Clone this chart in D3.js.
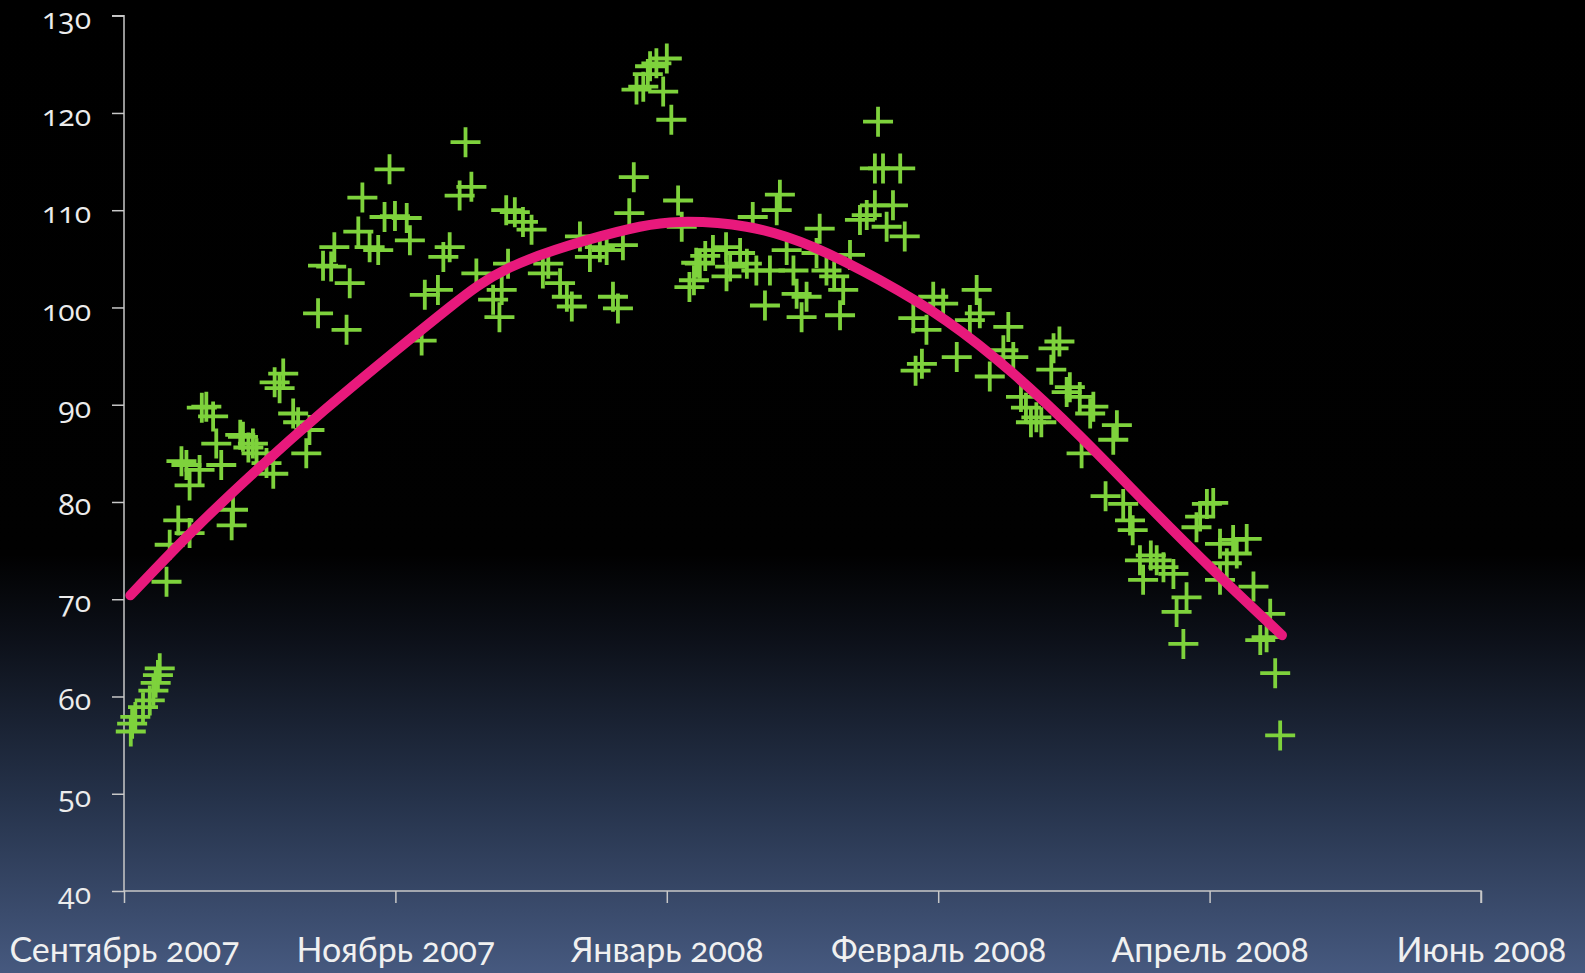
<!DOCTYPE html>
<html lang="ru">
<head>
<meta charset="utf-8">
<script src="https://cdn.jsdelivr.net/npm/d3@7"></script>
<style>
  html, body { margin: 0; padding: 0; background: #000; }
  svg { display: block; }
  text { font-feature-settings: "onum" 1; font-variant-numeric: oldstyle-nums; }
  .y-axis text { font-family: "Open Sans", sans-serif; }
  .x-axis text { font-family: "Lato", sans-serif; }
</style>
</head>
<body>
<svg id="chart" width="1585" height="973"></svg>
<script>
// Days elapsed since the start of the observation period (1 Sep 2007)
const dayOffsets = [
  1.5, 1.8, 2.5, 4.2, 5.7, 6.5, 7.0, 7.5, 7.9, 9.4,
  10.1, 12.0, 12.7, 13.8, 14.5, 14.5, 16.7, 17.2, 18.2, 19.7,
  20.4, 21.5, 23.8, 24.1, 25.7, 26.3, 27.5, 28.5, 29.3, 31.5,
  33.0, 33.3, 34.4, 35.2, 37.4, 38.5, 40.3, 41.0, 42.9, 44.0,
  45.8, 46.5, 49.9, 49.2, 51.8, 52.7, 54.3, 56.2, 57.6, 58.7,
  59.9, 62.5, 63.2, 66.5, 69.4, 65.8, 70.6, 72.0, 74.2, 75.5,
  76.8, 77.9, 81.6, 83.0, 84.5, 86.4, 88.2, 90.1, 84.9, 83.5,
  92.6, 93.8, 96.4, 97.9, 99.0, 100.8, 103.0, 105.2, 106.7, 108.1,
  109.2, 110.3, 111.7, 112.7, 113.3, 114.8, 115.8, 116.3, 117.7, 119.2,
  120.0, 121.0, 122.5, 123.3, 125.0, 126.0, 126.5, 127.3, 128.5, 130.2,
  133.1, 133.2, 134.0, 136.2, 137.7, 139.0, 139.8, 141.7, 142.8, 144.3,
  145.0, 146.5, 148.0, 148.7, 149.8, 150.9, 153.1, 153.8, 155.3, 157.0,
  158.3, 159.0, 160.5, 162.7, 164.2, 166.0, 166.0, 166.7, 167.8, 168.6,
  170.0, 171.6, 172.6, 174.5, 175.0, 176.4, 177.4, 178.9, 181.1, 184.1,
  187.0, 188.5, 189.2, 191.4, 194.4, 195.5, 196.6, 198.3, 199.4, 200.5,
  201.7, 202.8, 205.0, 205.5, 206.8, 208.4, 209.1, 211.3, 211.7, 213.6,
  214.3, 217.0, 218.7, 219.5, 220.9, 222.4, 223.0, 224.6, 225.3, 227.0,
  228.3, 229.8, 232.0, 232.7, 234.2, 234.9, 237.1, 237.9, 239.4, 240.8,
  242.3, 242.3, 243.8, 245.2, 246.0, 248.2, 249.7, 251.2, 252.6, 253.4,
  254.5, 255.6
];

// Measured value for each day above
const readings = [
  56.4, 57.2, 57.9, 58.9, 59.6, 60.6, 61.4, 62.2, 62.9, 71.8,
  75.6, 78.1, 84.2, 83.8, 81.7, 76.8, 83.3, 89.7, 89.8, 88.8,
  86.0, 83.8, 77.6, 79.2, 86.9, 86.7, 85.6, 86.0, 85.0, 84.0,
  82.9, 92.3, 91.7, 93.2, 89.1, 88.2, 85.0, 87.4, 99.4, 104.3,
  104.2, 106.2, 102.5, 97.7, 107.8, 111.3, 106.2, 105.9, 109.3, 114.2,
  109.4, 109.2, 106.9, 101.3, 101.8, 96.6, 105.2, 106.2, 111.5, 117.0,
  112.4, 103.5, 100.8, 99.0, 110.0, 109.8, 108.8, 108.0, 104.5, 101.8,
  103.5, 104.5, 102.5, 101.1, 100.1, 107.3, 105.2, 106.2, 105.9, 101.1,
  99.9, 106.4, 109.7, 113.4, 122.4, 122.7, 124.0, 124.8, 125.1, 122.2,
  125.6, 119.3, 111.0, 108.3, 102.1, 102.8, 104.6, 104.5, 105.3, 105.9,
  106.2, 103.2, 104.2, 105.6, 104.5, 109.3, 103.8, 100.2, 103.8, 110.0,
  111.6, 105.9, 103.8, 101.4, 99.0, 101.1, 105.6, 108.1, 103.8, 103.2,
  99.2, 101.8, 105.4, 109.0, 109.5, 114.3, 110.5, 119.1, 114.3, 108.3,
  110.5, 114.3, 107.3, 98.9, 93.5, 94.2, 97.7, 101.1, 100.4, 94.9,
  98.7, 101.8, 99.4, 92.9, 95.6, 98.0, 94.9, 90.8, 89.7, 88.2,
  88.7, 88.2, 93.6, 95.8, 96.5, 91.3, 91.8, 90.8, 85.0, 89.1,
  89.8, 80.6, 86.4, 87.9, 79.8, 78.1, 77.1, 74.0, 72.0, 74.5,
  74.0, 73.3, 72.6, 68.7, 65.4, 70.2, 77.4, 78.5, 79.8, 79.9,
  75.7, 72.0, 73.7, 76.1, 74.7, 76.2, 71.3, 65.8, 66.1, 68.5,
  62.4, 56.0
];

// Trend line: its level at a set of days across the observed span
const trendDays = [1.4, 14.7, 29.4, 44.2, 58.9, 72.2, 85.3, 102.9, 114.0, 122.9,
  137.6, 152.4, 167.1, 181.9, 196.6, 211.3, 226.1, 240.8, 256.0];
const trendLevels = [70.4, 76.8, 83.3, 89.4, 95.1, 100.1, 104.1, 107.0, 108.3, 108.8,
  108.3, 106.2, 102.8, 98.6, 93.2, 86.8, 79.8, 73.0, 66.3];

// Axis ticks: every 60 days on the time axis, every 10 units on the value axis
const tickDays = [0, 60, 120, 180, 240, 300];
const tickLabels = ["Сентябрь 2007", "Ноябрь 2007", "Январь 2008", "Февраль 2008", "Апрель 2008", "Июнь 2008"];
const valueTicks = [40, 50, 60, 70, 80, 90, 100, 110, 120, 130];

const W = 1585, H = 973;
const margin = { top: 15.7, right: 104, bottom: 82, left: 124 };

const svg = d3.select("#chart");

// Background: black sky fading into slate blue near the bottom
const defs = svg.append("defs");
const grad = defs.append("linearGradient")
  .attr("id", "bg").attr("x1", 0).attr("y1", 0).attr("x2", 0).attr("y2", 1);
grad.append("stop").attr("offset", "0%").attr("stop-color", "#000000");
grad.append("stop").attr("offset", "57%").attr("stop-color", "#010101");
grad.append("stop").attr("offset", "66%").attr("stop-color", "#0d111a");
grad.append("stop").attr("offset", "82%").attr("stop-color", "#25324a");
grad.append("stop").attr("offset", "100%").attr("stop-color", "#46597f");
svg.append("rect").attr("width", W).attr("height", H).attr("fill", "url(#bg)");

const x = d3.scaleLinear().domain([0, 300]).range([margin.left, W - margin.right]);
const y = d3.scaleLinear().domain([40, 130]).range([H - margin.bottom, margin.top]);

// Value axis
const yAxis = svg.append("g")
  .attr("class", "y-axis")
  .attr("transform", `translate(${margin.left},0)`)
  .call(d3.axisLeft(y).tickValues(valueTicks).tickSize(12).tickPadding(21).tickFormat(d3.format("d")));
yAxis.select(".domain").attr("stroke", "#c8c8c8").attr("stroke-width", 1.5).attr("d", `M-12,${y(130)}H0V${y(40)}`);
yAxis.selectAll(".tick line").attr("stroke", "#c8c8c8").attr("stroke-width", 1.5);
yAxis.selectAll(".tick text").attr("fill", "#ececec").attr("font-size", 30).attr("dy", "0.42em");

// Time axis
const xAxis = svg.append("g")
  .attr("class", "x-axis")
  .attr("transform", `translate(0,${y(40)})`)
  .call(d3.axisBottom(x).tickValues(tickDays).tickSize(12).tickPadding(35)
    .tickFormat((d, i) => tickLabels[i]));
xAxis.select(".domain").attr("stroke", "#c8c8c8").attr("stroke-width", 1.5).attr("d", `M${x(0)},0H${x(300)}V12`);
xAxis.selectAll(".tick line").attr("stroke", "#c8c8c8").attr("stroke-width", 1.5);
xAxis.selectAll(".tick text").attr("fill", "#f0f0f0").attr("font-size", 34);

// Observations drawn as plus markers
const pts = dayOffsets.map((d, i) => ({ d, v: readings[i] }));
const arm = 15;
svg.append("g")
  .selectAll("path")
  .data(pts)
  .join("path")
  .attr("transform", p => `translate(${x(p.d)},${y(p.v)})`)
  .attr("d", `M${-arm},0H${arm}M0,${-arm}V${arm}`)
  .attr("stroke", "#7ed23c")
  .attr("stroke-width", 3.8)
  .attr("fill", "none");

// Smooth trend line over the markers
svg.append("path")
  .datum(trendDays.map((d, i) => [d, trendLevels[i]]))
  .attr("d", d3.line().x(p => x(p[0])).y(p => y(p[1])).curve(d3.curveNatural))
  .attr("fill", "none")
  .attr("stroke", "#e8197c")
  .attr("stroke-width", 10)
  .attr("stroke-linecap", "round")
  .attr("stroke-linejoin", "round");
</script>
</body>
</html>
